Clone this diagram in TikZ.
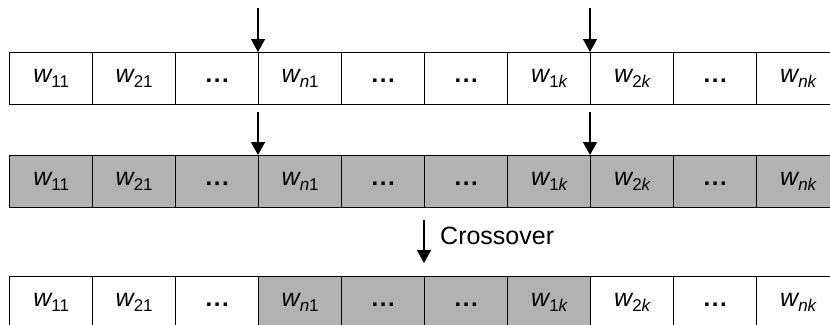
\documentclass[tikz,border=0pt]{standalone}
\usepackage{fontspec}
\setmainfont{Liberation Sans}
\usetikzlibrary{arrows.meta}
\newcommand{\wl}[1]{{\fontsize{25}{25}\selectfont\itshape w}\raisebox{-5pt}{\fontsize{17}{17}\selectfont #1}}
\newcommand{\dotsx}{{\fontsize{24}{24}\selectfont\bfseries .\hspace{1.5pt}.\hspace{1.5pt}.}}
\begin{document}
\begin{tikzpicture}[x=1pt,y=-1pt,
  cell/.style={draw=black, line width=1.4pt, minimum width=83pt, minimum height=52pt,
    inner sep=0pt, anchor=north west, text height=12pt, text depth=5pt},
  arr/.style={line width=1.5pt, -{Triangle[width=14pt,length=13pt]}}]
\useasboundingbox (0,0) rectangle (830,324);
\clip (0,0) rectangle (830,324);
% row 1
\foreach [count=\i] \t in {\wl{11},\wl{21},\dotsx,\wl{{\itshape n}1},\dotsx,\dotsx,\wl{1{\itshape k}},\wl{2{\itshape k}},\dotsx,\wl{{\itshape nk}}}
  \node[cell, fill=white] (a\i) at ({9+83*(\i-1)},52) {\t};
% row 2
\foreach [count=\i] \t in {\wl{11},\wl{21},\dotsx,\wl{{\itshape n}1},\dotsx,\dotsx,\wl{1{\itshape k}},\wl{2{\itshape k}},\dotsx,\wl{{\itshape nk}}}
  \node[cell, fill=black!30] (b\i) at ({9+83*(\i-1)},155) {\t};
% row 3
\foreach [count=\i] \t/\f in {\wl{11}/white,\wl{21}/white,\dotsx/white,\wl{{\itshape n}1}/black!30,\dotsx/black!30,\dotsx/black!30,\wl{1{\itshape k}}/black!30,\wl{2{\itshape k}}/white,\dotsx/white,\wl{{\itshape nk}}/white}
  \node[cell, fill=\f] (c\i) at ({9+83*(\i-1)},276) {\t};
% cut arrows
\coordinate (ta) at (258,8);
\coordinate (tb) at (590,8);
\coordinate (ua) at (258,112);
\coordinate (ub) at (590,112);
\draw[arr] (ta) -- (ta |- a3.north east);
\draw[arr] (tb) -- (tb |- a7.north east);
\draw[arr] (ua) -- (ua |- b3.north east);
\draw[arr] (ub) -- (ub |- b7.north east);
% crossover
\coordinate (x0) at (424,220);
\coordinate (x1) at (424,263);
\draw[arr] (x0) -- (x1);
\node[anchor=west, inner sep=0pt, font=\fontsize{25}{25}\selectfont] (xlabel) at (440,236) {Crossover};
\end{tikzpicture}
\end{document}
